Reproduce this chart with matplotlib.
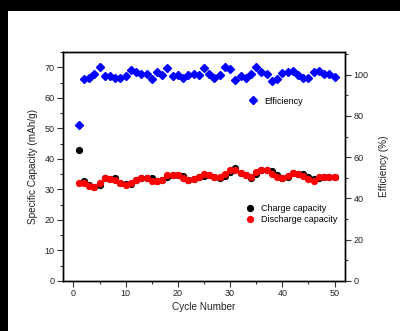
import matplotlib
matplotlib.use("Agg")
import matplotlib.pyplot as plt
from matplotlib.patches import Rectangle
from matplotlib.ticker import MultipleLocator

plt.rcParams['font.family'] = ['Liberation Sans', 'DejaVu Sans']

# cycle numbers
cycles = list(range(1, 51))

# discharge capacity (mAh/g)
discharge = [32.1, 32.1, 31.2, 30.9, 32.2, 33.6, 33.4, 33.1, 32.0, 31.4,
             32.2, 33.1, 33.7, 33.8, 32.9, 32.7, 33.1, 34.7, 34.7, 34.6,
             33.6, 33.2, 33.4, 34.1, 35.1, 34.7, 33.9, 34.0, 35.0, 36.2,
             36.4, 35.3, 34.6, 33.9, 35.8, 36.2, 36.2, 35.1, 33.9, 33.7,
             34.3, 35.3, 35.1, 34.4, 33.3, 32.8, 34.0, 34.2, 34.2, 34.2]

# charge capacity (mAh/g)
charge = [42.8, 32.8, 31.6, 30.9, 31.4, 33.6, 33.4, 33.6, 32.0, 31.7,
          31.7, 33.1, 33.7, 33.8, 33.6, 32.7, 33.1, 34.0, 34.7, 34.6,
          34.3, 33.2, 33.4, 34.1, 34.4, 34.7, 33.9, 33.7, 34.4, 35.8,
          36.9, 35.3, 34.6, 33.7, 35.1, 36.2, 36.4, 35.9, 34.6, 33.6,
          34.0, 35.3, 35.1, 34.9, 34.0, 33.3, 33.7, 34.2, 34.2, 34.2]

# coulombic efficiency (%)
efficiency = [75.8, 98.1, 98.4, 100.3, 103.5, 99.5, 99.4, 98.4, 98.2, 99.5,
              102.1, 101.3, 100.5, 100.2, 98.1, 101.1, 100.0, 103.1, 99.5, 99.8,
              98.2, 99.7, 100.3, 99.7, 103.1, 100.5, 98.4, 99.7, 103.5, 102.6,
              97.4, 99.4, 98.4, 100.3, 103.7, 101.5, 100.5, 97.1, 97.9, 100.8,
              101.5, 101.6, 99.8, 98.2, 98.2, 101.5, 101.9, 100.3, 100.5, 98.9]

fig = plt.figure(figsize=(4.0, 3.31), dpi=100, facecolor='white')
# dark frame along the top and left edges
fig.patches.append(Rectangle((0, 1 - 11 / 331), 1, 11 / 331, transform=fig.transFigure,
                             facecolor='black', edgecolor='none', zorder=-10))
fig.patches.append(Rectangle((0, 0), 8 / 400, 1, transform=fig.transFigure,
                             facecolor='black', edgecolor='none', zorder=-10))

ax = fig.add_axes([63 / 400, 1 - 281 / 331, 282 / 400, 229 / 331])
ax2 = ax.twinx()

ax.plot(cycles, charge, 'o', color='black', ms=4.2, label='Charge capacity', zorder=3)
ax.plot(cycles, discharge, 'o', color='red', ms=4.2, label='Discharge capacity', zorder=4)
ax2.plot(cycles, efficiency, 'D', color='blue', ms=4.0, label='Efficiency')

ax.set_xlim(-2, 52)
ax.set_ylim(0, 75)
ax2.set_ylim(0, 111)

ax.xaxis.set_major_locator(MultipleLocator(10))
ax.xaxis.set_minor_locator(MultipleLocator(5))
ax.yaxis.set_major_locator(MultipleLocator(10))
ax.yaxis.set_minor_locator(MultipleLocator(5))
ax2.yaxis.set_major_locator(MultipleLocator(20))
ax2.yaxis.set_minor_locator(MultipleLocator(10))

for a in (ax, ax2):
    a.tick_params(which='major', direction='out', length=4, width=0.8,
                  labelsize=6.5, pad=2, color='#333333', labelcolor='#222222')
    a.tick_params(which='minor', direction='out', length=2, width=0.8, color='#333333')
    for s in a.spines.values():
        s.set_linewidth(1.0)
ax.tick_params(top=False, which='both')

ax.set_xlabel('Cycle Number', fontsize=7.2, labelpad=3, color='#222222')
ax.set_ylabel('Specific Capacity (mAh/g)', fontsize=7.2, labelpad=5, color='#222222')
ax2.set_ylabel('Efficiency (%)', fontsize=7.2, labelpad=8, color='#222222')

ax2.legend(loc='center left', bbox_to_anchor=(248 / 400, 1 - 101 / 331),
           bbox_transform=fig.transFigure, frameon=False, fontsize=6.5,
           handlelength=1.0, handletextpad=0.8, borderpad=0, borderaxespad=0)
ax.legend(loc='center left', bbox_to_anchor=(245 / 400, 1 - 214 / 331),
          bbox_transform=fig.transFigure, frameon=False, fontsize=6.5,
          handlelength=1.0, handletextpad=0.8, borderpad=0, borderaxespad=0,
          labelspacing=0.15)

fig.savefig('out.png', dpi=100)
